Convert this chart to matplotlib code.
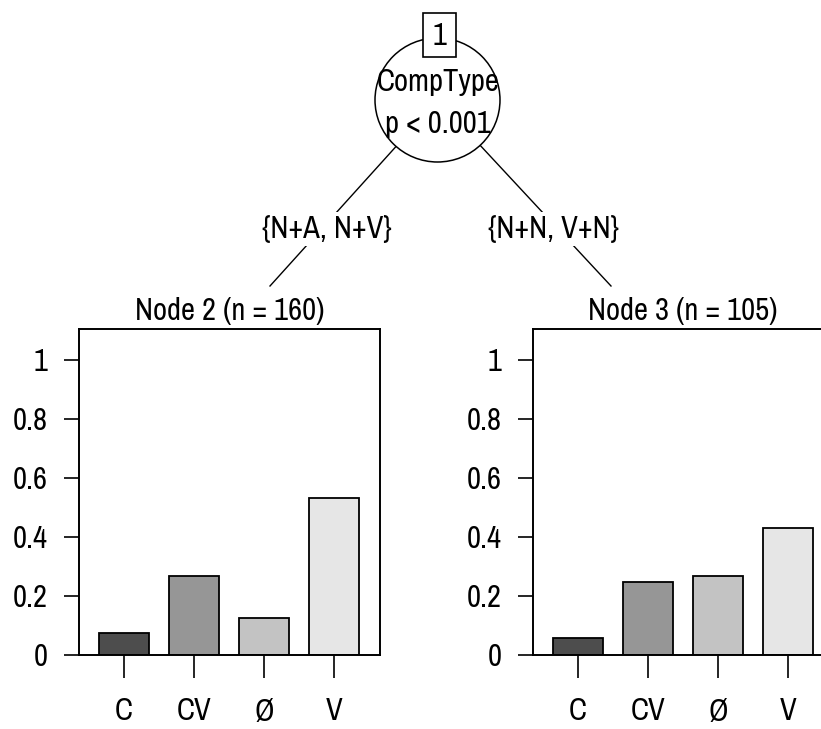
import matplotlib
matplotlib.use("Agg")
import matplotlib.pyplot as plt
from matplotlib.patches import Ellipse, Rectangle

# ---- data ----
categories = ["C", "CV", "Ø", "V"]
node2_props = [0.075, 0.269, 0.125, 0.531]
node3_props = [0.057, 0.248, 0.267, 0.429]
bar_colors = ["#4D4D4D", "#969696", "#C3C3C3", "#E6E6E6"]
yticks = [0, 0.2, 0.4, 0.6, 0.8, 1]
ytick_labels = ["0", "0.2", "0.4", "0.6", "0.8", "1"]
root_id = "1"
root_var = "CompType"
root_p = "p < 0.001"
left_split = "{N+A, N+V}"
right_split = "{N+N, V+N}"
node2_title = "Node 2 (n = 160)"
node3_title = "Node 3 (n = 105)"

plt.rcParams["font.family"] = ["Archivo Narrow", "Roboto Condensed", "DejaVu Sans"]
FS = 22

W, H = 821, 729
fig = plt.figure(figsize=(W / 100, H / 100), dpi=100)


def add_panel(left_px, vals):
    ax = fig.add_axes([left_px / W, (H - 655) / H, 301 / W, 326 / H])
    x = list(range(1, len(vals) + 1))
    ax.bar(x, vals, width=0.714, color=bar_colors, edgecolor="black", linewidth=1.3)
    ax.set_xlim(0.36, 4.66)
    ax.set_ylim(0, 1.105)
    ax.set_yticks(yticks)
    ax.set_yticklabels(ytick_labels)
    ax.set_xticks(x)
    ax.set_xticklabels(categories)
    ax.tick_params(axis="y", length=10.8, width=1.2, pad=12, labelsize=FS)
    ax.tick_params(axis="x", length=16.6, width=1.2, pad=14, labelsize=FS)
    for s in ax.spines.values():
        s.set_linewidth(1.4)
    return ax


ax2 = add_panel(79, node2_props)
ax3 = add_panel(533, node3_props)

# ---- tree overlay in pixel coordinates ----
ov = fig.add_axes([0, 0, 1, 1], zorder=5)
ov.set_xlim(0, W)
ov.set_ylim(H, 0)
ov.axis("off")
ov.patch.set_alpha(0)

cx, cy = 438, 100
ov.plot([cx, 270], [cy, 286], color="black", lw=1.0, zorder=1)
ov.plot([cx, 611], [cy, 286], color="black", lw=1.0, zorder=1)
ov.add_patch(Ellipse((437.5, 100), 125, 124, facecolor="white", edgecolor="black", lw=1.1, zorder=2))
ov.add_patch(Rectangle((423, 13), 33, 44, facecolor="white", edgecolor="black", lw=1.2, zorder=3))
ov.text(439.5, 36, root_id, ha="center", va="center", fontsize=FS, zorder=4)
ov.text(438, 82, root_var, ha="center", va="center", fontsize=FS, zorder=4)
ov.text(438, 124, root_p, ha="center", va="center", fontsize=FS, zorder=4)

bb = dict(facecolor="white", edgecolor="none", pad=2)
ov.text(327, 229, left_split, ha="center", va="center", fontsize=FS, bbox=bb, zorder=4)
ov.text(553, 229, right_split, ha="center", va="center", fontsize=FS, bbox=bb, zorder=4)

ov.text(229.5, 311, node2_title, ha="center", va="center", fontsize=FS, zorder=4)
ov.text(683, 311, node3_title, ha="center", va="center", fontsize=FS, zorder=4)

fig.savefig("out.png", dpi=100, facecolor="white")
